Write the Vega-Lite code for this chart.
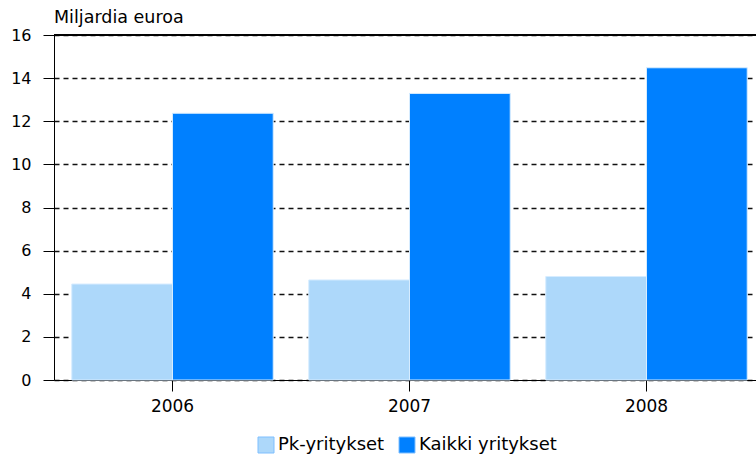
{
  "$schema": "https://vega.github.io/schema/vega-lite/v6.json",
  "width": 702,
  "height": 345,
  "autosize": {"type": "none"},
  "padding": {"left": 54, "top": 35, "right": 0, "bottom": 79},
  "background": "white",
  "config": {
    "font": "DejaVu Sans",
    "view": {"stroke": null},
    "axis": {
      "domainColor": "#000",
      "tickColor": "#000",
      "labelColor": "#000",
      "labelFont": "DejaVu Sans",
      "tickSize": 11,
      "domainWidth": 1,
      "tickWidth": 1
    }
  },
  "title": {
    "text": "Miljardia euroa",
    "anchor": "start",
    "frame": "group",
    "fontSize": 17.5,
    "fontWeight": "normal",
    "color": "#000",
    "offset": 1
  },
  "data": {
    "values": [
      {"year": "2006", "group": "Pk-yritykset", "value": 4.45},
      {"year": "2006", "group": "Kaikki yritykset", "value": 12.37},
      {"year": "2007", "group": "Pk-yritykset", "value": 4.64},
      {"year": "2007", "group": "Kaikki yritykset", "value": 13.29},
      {"year": "2008", "group": "Pk-yritykset", "value": 4.8},
      {"year": "2008", "group": "Kaikki yritykset", "value": 14.48}
    ]
  },
  "layer": [
    {
      "mark": {"type": "bar", "stroke": "#d6ecff", "strokeWidth": 1},
      "encoding": {
        "x": {
          "field": "year",
          "type": "nominal",
          "scale": {"paddingInner": 0.15, "paddingOuter": 0.075, "range": [0, 711]},
          "axis": {
            "title": null,
            "labelAngle": 0,
            "labelFontSize": 17,
            "labelPadding": 7,
            "grid": false
          }
        },
        "xOffset": {
          "field": "group",
          "type": "nominal",
          "sort": ["Pk-yritykset", "Kaikki yritykset"],
          "scale": {"paddingInner": 0, "paddingOuter": 0}
        },
        "y": {
          "field": "value",
          "type": "quantitative",
          "scale": {"domain": [0, 16], "nice": false},
          "axis": {
            "title": null,
            "values": [0, 2, 4, 6, 8, 10, 12, 14, 16],
            "labelFontSize": 16,
            "labelPadding": 12,
            "grid": true,
            "gridColor": "#111",
            "gridDash": [5, 4],
            "gridWidth": 1.3
          }
        },
        "color": {
          "field": "group",
          "type": "nominal",
          "sort": ["Pk-yritykset", "Kaikki yritykset"],
          "scale": {"domain": ["Pk-yritykset", "Kaikki yritykset"], "range": ["#ADD8FA", "#0080FF"]},
          "legend": {
            "title": null,
            "orient": "none",
            "legendX": 203,
            "legendY": 401,
            "direction": "horizontal",
            "symbolType": "square",
            "symbolSize": 256,
            "symbolStrokeWidth": 1,
            "symbolStrokeColor": "#7fbfff",
            "labelFontSize": 18,
            "labelColor": "#000",
            "labelOffset": 3,
            "columnPadding": 12
          }
        }
      }
    },
    {
      "mark": {"type": "rule", "color": "#000", "strokeWidth": 1},
      "encoding": {"y": {"datum": 16}}
    }
  ]
}
